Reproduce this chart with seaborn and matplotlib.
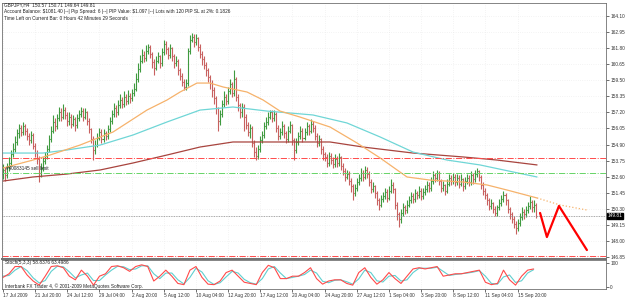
import numpy as np
import matplotlib
matplotlib.use("Agg")
import matplotlib.pyplot as plt
import seaborn as sns

# GBPJPY H4 bars (one entry per bar)
opens = [152.80,153.10,152.70,153.30,153.60,154.20,154.60,155.10,155.70,156.10,
         155.80,156.20,155.90,155.50,155.20,155.60,154.80,154.30,153.90,152.90,
         153.20,153.70,154.10,154.60,155.30,155.90,156.50,156.20,156.80,157.20,
         156.90,157.40,157.00,156.60,156.90,156.40,156.70,156.30,156.80,157.10,
         157.30,156.90,157.20,156.60,156.00,155.30,154.50,154.90,155.40,155.80,
         155.30,155.70,155.50,156.00,156.60,157.10,157.50,157.20,157.70,158.10,
         157.80,158.30,158.00,158.40,158.20,158.60,158.90,159.60,160.30,160.90,
         161.30,161.10,161.60,161.90,161.40,160.80,160.40,160.90,161.20,160.70,
         161.50,162.10,161.70,161.30,161.80,161.20,160.70,160.90,160.20,159.80,
         159.40,159.00,159.30,161.60,162.40,162.60,162.20,162.50,161.90,161.40,
         161.00,160.60,160.20,159.70,159.30,158.80,158.20,157.50,156.60,157.10,
         157.80,158.30,158.00,158.70,159.20,158.60,159.60,158.30,157.70,157.20,
         157.60,156.90,156.30,155.80,156.10,155.00,154.40,154.10,154.60,155.20,
         155.60,156.20,156.50,156.90,157.20,156.80,157.10,156.10,155.50,155.80,
         156.20,155.70,155.30,155.90,156.30,155.20,154.50,155.10,155.50,155.90,
         155.40,155.80,156.20,155.90,156.40,156.10,155.50,155.00,155.30,154.60,
         154.20,154.00,153.60,154.10,153.80,153.50,153.90,153.60,154.00,153.40,
         153.00,152.60,152.80,152.30,151.90,151.40,151.80,152.20,152.50,152.90,
         152.60,153.10,152.80,152.20,151.70,151.90,151.40,150.90,150.60,151.00,
         151.20,151.50,151.10,151.60,152.00,151.70,150.60,149.90,149.60,150.00,
         150.40,150.20,150.60,150.90,151.20,151.00,151.40,151.30,151.60,151.20,
         151.50,151.70,152.00,151.80,152.30,152.70,152.50,152.90,152.30,151.80,
         152.00,151.60,152.10,152.50,152.30,152.60,152.20,152.50,152.10,152.40,
         151.90,152.30,152.50,152.20,152.70,152.40,152.80,153.00,152.60,152.00,
         151.60,151.30,150.90,150.50,150.70,150.30,150.00,150.40,150.70,151.00,
         151.30,150.90,150.30,149.90,149.60,149.20,148.90,149.30,149.70,150.10,
         149.90,150.20,150.50,150.80,150.40,150.57]
highs = [153.50,153.30,153.60,154.00,154.50,155.00,155.50,156.00,156.40,156.30,
         156.50,156.40,156.10,155.70,155.90,155.70,155.00,154.50,154.10,153.60,
         154.00,154.40,154.90,155.60,156.20,157.00,156.80,157.10,157.60,157.50,
         157.80,157.60,157.20,157.20,157.10,157.00,156.90,157.10,157.40,157.60,
         157.50,157.50,157.30,156.80,156.10,155.50,155.20,155.70,156.10,156.00,
         156.00,155.90,156.30,156.90,157.40,157.90,157.70,158.10,158.50,158.30,
         158.70,158.50,158.80,158.60,158.90,159.30,160.00,160.70,161.30,161.70,
         161.60,162.00,162.10,162.00,161.50,161.00,161.20,161.50,161.30,161.80,
         162.40,162.30,161.90,162.10,161.90,161.40,161.20,161.00,160.40,160.00,
         159.60,159.60,161.80,162.70,162.90,162.80,162.80,162.60,162.10,161.60,
         161.20,160.80,160.40,159.90,159.50,159.00,158.40,157.60,157.40,158.10,
         158.70,158.50,159.00,159.60,159.40,160.20,159.70,158.50,157.90,157.90,
         157.80,157.10,156.50,156.40,156.20,155.20,154.70,154.90,155.50,155.90,
         156.50,156.90,157.20,157.40,157.40,157.40,157.20,156.30,156.10,156.60,
         156.40,155.90,156.20,156.60,156.40,155.40,155.40,155.80,156.20,156.10,
         156.10,156.50,156.40,156.70,156.60,156.30,155.70,155.60,155.40,154.80,
         154.40,154.20,154.40,154.30,154.00,154.20,154.10,154.30,154.10,153.60,
         153.20,153.10,153.00,152.50,152.10,152.10,152.50,152.80,153.20,153.10,
         153.40,153.30,153.00,152.40,152.20,152.00,151.60,151.10,151.30,151.50,
         151.80,151.70,151.90,152.40,152.20,151.80,150.80,150.10,150.30,150.70,
         150.60,150.90,151.20,151.50,151.40,151.70,151.60,151.90,151.80,151.80,
         152.00,152.30,152.20,152.60,153.00,152.90,153.10,153.00,152.40,152.30,
         152.10,152.40,152.80,152.70,152.90,152.80,152.80,152.70,152.80,152.50,
         152.60,152.80,152.70,153.00,152.90,153.10,153.20,153.10,152.70,152.20,
         151.80,151.40,151.10,151.00,150.80,150.50,150.60,151.00,151.30,151.60,
         151.40,151.00,150.40,150.10,149.80,149.40,149.60,150.00,150.40,150.30,
         150.50,150.80,151.20,150.90,150.90,150.71]
lows = [152.40,152.30,152.50,153.00,153.40,154.00,154.40,154.90,155.40,155.50,
        155.60,155.60,155.20,154.90,155.00,154.60,154.00,153.50,152.20,152.60,
        153.00,153.50,153.90,154.40,155.10,155.70,155.90,156.00,156.60,156.60,
        156.70,156.70,156.20,156.30,156.10,156.20,155.90,156.10,156.60,156.90,
        156.60,156.70,156.30,155.70,155.00,153.80,154.20,154.70,155.20,155.00,
        155.10,155.20,155.30,155.80,156.40,156.90,156.90,157.00,157.50,157.50,
        157.60,157.70,157.80,157.90,158.00,158.40,158.70,159.40,160.10,160.70,
        160.80,160.90,161.40,161.10,160.40,159.90,160.20,160.70,160.40,160.50,
        161.30,161.40,161.00,161.10,160.90,160.40,160.50,159.90,159.50,159.10,
        158.80,158.80,159.10,161.40,162.20,161.90,162.00,161.60,161.10,160.60,
        160.30,159.80,159.40,158.90,158.30,157.80,157.10,155.90,156.30,156.90,
        157.60,157.70,157.80,158.50,158.30,158.40,158.00,157.30,156.80,156.90,
        155.90,156.00,155.50,155.40,154.70,154.00,153.80,153.90,154.40,155.00,
        155.40,156.00,156.30,156.70,156.50,156.60,155.80,155.20,155.30,155.60,
        155.40,155.00,155.10,155.70,154.90,153.80,154.30,154.90,155.30,155.10,
        155.20,155.60,155.60,155.70,155.80,155.20,154.70,154.80,154.20,153.80,
        153.70,153.30,153.40,153.50,153.20,153.30,153.30,153.40,153.10,152.70,
        152.30,152.40,152.00,151.50,150.90,151.20,151.60,152.00,152.30,152.30,
        152.40,152.50,151.90,151.40,151.50,151.10,150.60,150.20,150.40,150.80,
        151.00,150.80,150.90,151.40,151.40,150.30,149.50,149.00,149.30,149.80,
        149.90,150.00,150.40,150.70,150.70,150.80,151.00,151.10,150.90,151.00,
        151.30,151.50,151.50,151.60,152.10,152.20,152.30,152.00,151.50,151.60,
        151.30,151.40,151.90,152.00,152.10,151.90,152.00,151.80,151.90,151.60,
        151.70,152.10,151.90,152.00,152.10,152.20,152.60,152.30,151.70,151.30,
        151.00,150.60,150.20,150.30,150.00,149.80,149.80,150.20,150.50,150.80,
        150.60,150.00,149.60,149.30,148.90,148.50,148.70,149.10,149.50,149.60,
        149.70,150.00,150.30,150.10,150.10,149.64]
closes = [153.10,152.70,153.30,153.60,154.20,154.60,155.10,155.70,156.10,155.80,
          156.20,155.90,155.50,155.20,155.60,154.80,154.30,153.90,152.90,153.20,
          153.70,154.10,154.60,155.30,155.90,156.50,156.20,156.80,157.20,156.90,
          157.40,157.00,156.60,156.90,156.40,156.70,156.30,156.80,157.10,157.30,
          156.90,157.20,156.60,156.00,155.30,154.50,154.90,155.40,155.80,155.30,
          155.70,155.50,156.00,156.60,157.10,157.50,157.20,157.70,158.10,157.80,
          158.30,158.00,158.40,158.20,158.60,158.90,159.60,160.30,160.90,161.30,
          161.10,161.60,161.90,161.40,160.80,160.40,160.90,161.20,160.70,161.50,
          162.10,161.70,161.30,161.80,161.20,160.70,160.90,160.20,159.80,159.40,
          159.00,159.30,161.60,162.40,162.60,162.20,162.50,161.90,161.40,161.00,
          160.60,160.20,159.70,159.30,158.80,158.20,157.50,156.60,157.10,157.80,
          158.30,158.00,158.70,159.20,158.60,159.60,158.30,157.70,157.20,157.60,
          156.90,156.30,155.80,156.10,155.00,154.40,154.10,154.60,155.20,155.60,
          156.20,156.50,156.90,157.20,156.80,157.10,156.10,155.50,155.80,156.20,
          155.70,155.30,155.90,156.30,155.20,154.50,155.10,155.50,155.90,155.40,
          155.80,156.20,155.90,156.40,156.10,155.50,155.00,155.30,154.60,154.20,
          154.00,153.60,154.10,153.80,153.50,153.90,153.60,154.00,153.40,153.00,
          152.60,152.80,152.30,151.90,151.40,151.80,152.20,152.50,152.90,152.60,
          153.10,152.80,152.20,151.70,151.90,151.40,150.90,150.60,151.00,151.20,
          151.50,151.10,151.60,152.00,151.70,150.60,149.90,149.60,150.00,150.40,
          150.20,150.60,150.90,151.20,151.00,151.40,151.30,151.60,151.20,151.50,
          151.70,152.00,151.80,152.30,152.70,152.50,152.90,152.30,151.80,152.00,
          151.60,152.10,152.50,152.30,152.60,152.20,152.50,152.10,152.40,151.90,
          152.30,152.50,152.20,152.70,152.40,152.80,153.00,152.60,152.00,151.60,
          151.30,150.90,150.50,150.70,150.30,150.00,150.40,150.70,151.00,151.30,
          150.90,150.30,149.90,149.60,149.20,148.90,149.30,149.70,150.10,149.90,
          150.20,150.50,150.80,150.40,150.57,149.81]

# moving averages, read at a few points (bar index, price)
ma_fast_idx = [0, 14.9, 23.4, 38.3, 54.7, 71.6, 81.6, 88.1, 96.5, 103, 109.5, 121.4,
               129.4, 137.8, 147.8, 162.7, 176.1, 187.6, 201, 212.4, 228.9, 240.8, 250.7, 265.7]
ma_fast = [153.22, 153.79, 154.15, 154.86, 155.79, 157.36, 158.08, 158.65, 159.29, 159.29, 159.01, 158.65,
           158.08, 157.29, 156.86, 156.15, 155.01, 153.94, 152.58, 152.36, 152.22, 152.01, 151.65, 151.08]
ma_fast_ext_idx = [265.7, 277.1, 290.5]
ma_fast_ext = [151.08, 150.58, 150.22]
ma_mid_idx = [0, 19.9, 31.8, 48.3, 64.7, 81.6, 98, 114.4, 131.3, 142.8, 154.2, 171.1,
              187.6, 204, 220.9, 237.3, 253.7, 265.7]
ma_mid = [154.29, 154.29, 154.51, 154.86, 155.58, 156.51, 157.36, 157.58, 157.29, 157.15, 157.01, 156.44,
          155.44, 154.36, 153.79, 153.44, 152.94, 152.58]
ma_slow_idx = [0, 14.9, 31.8, 48.3, 64.7, 81.6, 98, 114.4, 142.8, 162.7, 179.1, 204, 228.9, 245.8, 265.7]
ma_slow = [152.29, 152.58, 152.79, 153.08, 153.58, 154.15, 154.72, 155.08, 155.08, 155.08, 154.72, 154.29,
           154.01, 153.79, 153.44]

# horizontal order levels
upper_level = 153.93
limit_level = 152.88
lower_level = 146.93
last_price = 149.81

# hand drawn forecast zigzag
zigzag_idx = [267.2, 270.6, 276.6, 290.5]
zigzag = [150.01, 148.29, 150.51, 147.36]

# stochastic (5,3,3), every third bar
stoch_idx = list(range(0, 265, 3))
stoch_k = [40,55,85,85,50,25,8,45,85,88,80,45,30,70,45,8,45,55,85,88,
           80,65,85,92,85,25,45,70,45,15,10,70,85,40,12,10,25,60,70,45,
           20,15,10,60,90,80,35,35,45,45,60,80,35,12,25,30,30,15,8,60,
           80,40,12,30,60,35,15,45,75,80,75,80,85,45,50,55,55,60,65,70,
           20,10,15,70,30,8,45,70,75]
stoch_d = [45,48,70,85,68,38,17,27,65,86,84,63,38,50,58,27,27,50,70,86,
           84,72,75,88,88,55,35,58,58,30,13,40,78,62,26,11,18,42,65,58,
           32,18,12,35,75,85,58,35,40,45,52,70,58,24,18,28,30,22,12,34,
           70,60,26,21,45,48,25,30,60,78,78,78,82,65,48,52,55,58,62,68,
           45,15,12,42,50,19,26,58,72]

price_ticks = [146.85, 148.00, 149.15, 150.30, 151.45, 152.60, 153.75, 154.90,
               156.05, 157.20, 158.35, 159.50, 160.65, 161.80, 162.95, 164.10]
time_ticks = [0, 16, 32, 48, 64, 80, 96, 112, 128, 144, 160, 176, 192, 208, 224, 240, 256]
time_labels = ["17 Jul 2009", "21 Jul 20:00", "24 Jul 12:00", "29 Jul 04:00", "2 Aug 20:00",
               "5 Aug 12:00", "10 Aug 04:00", "12 Aug 20:00", "17 Aug 12:00", "20 Aug 04:00",
               "24 Aug 20:00", "27 Aug 12:00", "1 Sep 04:00", "3 Sep 20:00", "8 Sep 12:00",
               "11 Sep 04:00", "15 Sep 20:00"]

sns.set_style("white")
plt.rcParams['font.family'] = ['Liberation Sans', 'DejaVu Sans']
plt.rcParams['text.parse_math'] = False
fs = 3.4
W, H = 625, 299

fig = plt.figure(figsize=(W / 100, H / 100), dpi=100)
ax = fig.add_axes([2 / W, 1 - 259 / H, 604 / W, 256 / H])
ax2 = fig.add_axes([2 / W, 1 - 289 / H, 604 / W, 29 / H])

idx = np.arange(len(closes))
o = np.array(opens); h = np.array(highs); l = np.array(lows); c = np.array(closes)
cols = np.where(c >= o, "#3f9a3f", "#c8605f")

ax.vlines(idx, l, h, colors=cols, lw=0.8)
ax.hlines(o, idx - 0.5, idx, colors=cols, lw=0.8)
ax.hlines(c, idx, idx + 0.5, colors=cols, lw=0.8)

sns.lineplot(x=ma_slow_idx, y=ma_slow, ax=ax, color="#a8443e", lw=0.9)
sns.lineplot(x=ma_mid_idx, y=ma_mid, ax=ax, color="#6fd6d6", lw=0.9)
sns.lineplot(x=ma_fast_idx, y=ma_fast, ax=ax, color="#f6b26b", lw=0.9)
sns.lineplot(x=ma_fast_ext_idx, y=ma_fast_ext, ax=ax, color="#f6b26b", lw=0.9, linestyle=":")

ax.axhline(upper_level, color="#ff4a4a", lw=0.7, linestyle="-.")
ax.axhline(limit_level, color="#66d466", lw=0.7, linestyle="-.")
ax.axhline(lower_level, color="#ff4a4a", lw=0.7, linestyle="-.")
ax.axhline(last_price, color="#8a8a8a", lw=0.6, linestyle=(0, (1, 1)))

sns.lineplot(x=zigzag_idx, y=zigzag, ax=ax, color="#ff0000", lw=1.6, sort=False)

ax.set_xlim(-0.5, 300)
ax.set_ylim(146.72, 165.01)
ax.yaxis.tick_right()
ax.set_yticks(price_ticks)
ax.set_yticklabels([f"{v:.2f}" for v in price_ticks])
ax.tick_params(axis="y", right=True, length=2, width=0.5, labelsize=fs, pad=1, colors="#333333")
ax.set_xticks(time_ticks)
ax.tick_params(axis="x", bottom=False, labelbottom=False)
ax.grid(True, color="#dcdcdc", lw=0.4, linestyle=(0, (1, 3)))
for s in ax.spines.values():
    s.set_color("#707070")
    s.set_linewidth(0.6)
ax.spines["bottom"].set_linewidth(1.4)
ax.set_xlabel("")
ax.set_ylabel("")

# current price box
ax.text(1.003, last_price, f"{last_price:.2f}", transform=ax.get_yaxis_transform(),
        fontsize=fs, color="white", va="center", ha="left",
        bbox=dict(boxstyle="square,pad=0.15", fc="black", ec="black"))
ax.text(1.5, limit_level + 0.12, "#40083145 sell limit", fontsize=fs, color="#222222", va="bottom")

# stochastic panel
sns.lineplot(x=stoch_idx, y=stoch_d, ax=ax2, color="#5fcfcf", lw=0.8)
sns.lineplot(x=stoch_idx, y=stoch_k, ax=ax2, color="#ff4a4a", lw=0.8)
ax2.set_xlim(-0.5, 300)
ax2.set_ylim(-8, 112)
ax2.yaxis.tick_right()
ax2.set_yticks([0, 100])
ax2.set_yticklabels(["0", "100"])
ax2.tick_params(axis="y", right=True, length=2, width=0.5, labelsize=fs, pad=1, colors="#333333")
ax2.set_xticks(time_ticks)
ax2.set_xticklabels(time_labels)
ax2.tick_params(axis="x", bottom=True, length=2, width=0.5, labelsize=fs, pad=0.8, colors="#333333")
for t in ax2.get_xticklabels():
    t.set_ha("left")
ax2.grid(True, axis="x", color="#dcdcdc", lw=0.4, linestyle=(0, (1, 3)))
for s in ax2.spines.values():
    s.set_color("#707070")
    s.set_linewidth(0.6)
ax2.set_xlabel("")
ax2.set_ylabel("")
ax2.text(1.0, 100, "Stoch(5,3,3) 58.8376 63.4986", fontsize=fs, color="#222222", va="center")
ax2.text(1.0, 3, "Interbank FX Trader 4, \u00a9 2001-2009 MetaQuotes Software Corp.",
         fontsize=fs, color="#222222", va="center")

# header lines
header = ["GBPJPY,H4  150.57 150.71 149.64 149.81",
          "Account Balance: $1081.40 |--| Pip Spread: 6 |--| PIP Value: $1.097 |--| Lots with 120 PIP SL at 2%: 0.1826",
          "Time Left on Current Bar: 0 Hours 42 Minutes 29 Seconds"]
for i, line in enumerate(header):
    fig.text(4 / W, 1 - (5 + 7 * i) / H, line, fontsize=fs, color="#222222", va="center")

fig.savefig("out.png", dpi=100, facecolor="white")
